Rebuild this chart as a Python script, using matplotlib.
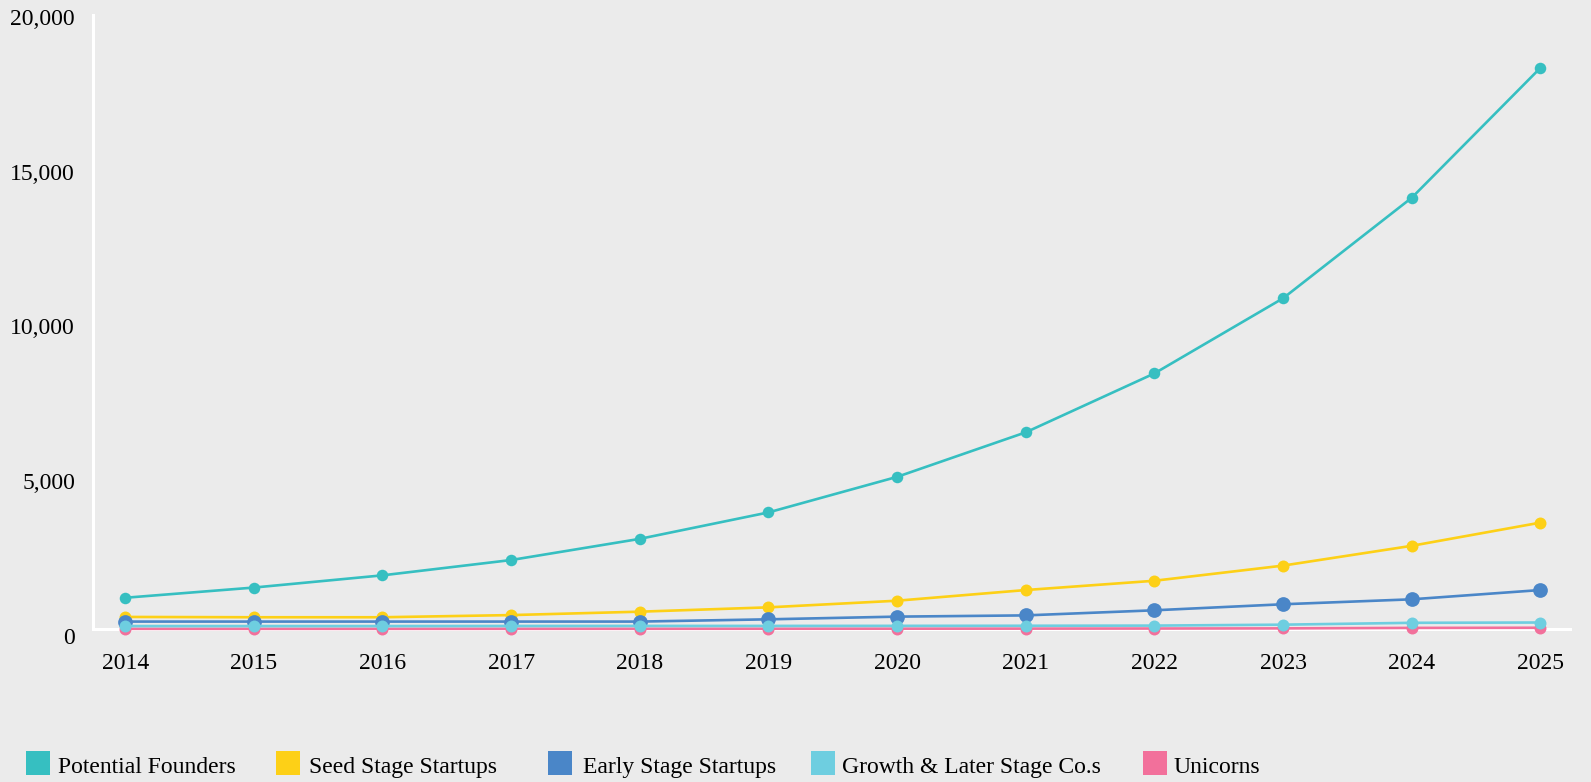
import matplotlib
matplotlib.use("Agg")
import matplotlib.pyplot as plt
from matplotlib.patches import Rectangle
from matplotlib.ticker import FuncFormatter
from matplotlib.transforms import ScaledTranslation

years = [2014, 2015, 2016, 2017, 2018, 2019, 2020, 2021, 2022, 2023, 2024, 2025]
potential_founders = [1010, 1340, 1735, 2230, 2915, 3770, 4920, 6360, 8265, 10695, 13945, 18145]
seed_stage = [390, 380, 380, 450, 560, 700, 915, 1260, 1560, 2050, 2690, 3440]
early_stage = [240, 240, 240, 240, 240, 313, 400, 440, 605, 800, 960, 1260]
growth_later = [95, 95, 95, 98, 100, 100, 102, 105, 110, 140, 200, 210]
unicorns = [5, 5, 5, 6, 7, 8, 10, 12, 15, 20, 35, 40]

series_names = ["Potential Founders", "Seed Stage Startups", "Early Stage Startups",
                "Growth & Later Stage Co.s", "Unicorns"]
colors = ["#36BFC1", "#FDD017", "#4A86C8", "#6ECEE0", "#F2709B"]
y_ticks = [0, 5000, 10000, 15000, 20000]

plt.rcParams['font.family'] = ['Liberation Serif', 'DejaVu Serif']
BG = "#EBEBEB"

fig = plt.figure(figsize=(15.91, 7.82), dpi=100, facecolor=BG)
W, H = 1591, 782
ax = fig.add_axes([93 / W, (H - 629) / H, (1570 - 93) / W, (629 - 10.5) / H])
ax.set_facecolor(BG)

data = [potential_founders, seed_stage, early_stage, growth_later, unicorns]
zorders = [3, 4, 6, 7, 5]
msizes = [8.3, 8.6, 10.6, 8.6, 8.6]
for vals, c, z, ms in zip(data, colors, zorders, msizes):
    ax.plot(years, vals, color=c, lw=1.9, marker='o', markersize=ms,
            markeredgewidth=0, zorder=z, clip_on=False)

ax.set_xlim(2013.75, 2025.23)
ax.set_ylim(0, 20000)
ax.set_xticks(years)
ax.set_yticks(y_ticks)
ax.yaxis.set_major_formatter(FuncFormatter(lambda v, p: f"{int(v):,}"))
ax.tick_params(axis='both', length=0, labelsize=17, colors='black')
ax.tick_params(axis='y', pad=13)
ax.tick_params(axis='x', pad=17.3)

shift = ScaledTranslation(0, -6.5 / 100, fig.dpi_scale_trans)
for lab in ax.get_yticklabels():
    lab.set_transform(lab.get_transform() + shift)

for s in ['top', 'right']:
    ax.spines[s].set_visible(False)
for s in ['left', 'bottom']:
    ax.spines[s].set_color('white')
    ax.spines[s].set_linewidth(2.2)
ax.spines['left'].set_bounds(0, 19850)

# legend (manual placement)
sq_left = [25.5, 276, 548, 811, 1143]
txt_left = [57.6, 308.7, 583, 842, 1173]
for name, c, sx, tx in zip(series_names, colors, sq_left, txt_left):
    fig.patches.append(Rectangle((sx / W, (H - 775) / H), 24 / W, 24 / H,
                                 transform=fig.transFigure, facecolor=c,
                                 edgecolor='none'))
    fig.text(tx / W, (H - 773) / H, name, fontsize=17, va='baseline', ha='left')

fig.savefig("out.png", dpi=100, facecolor=BG)
